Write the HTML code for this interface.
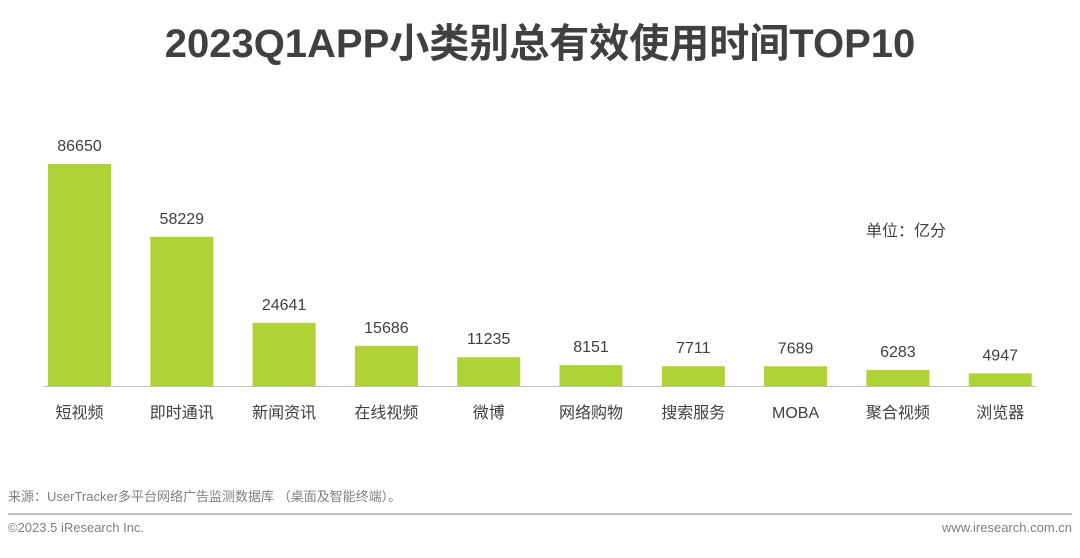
<!DOCTYPE html>
<html><head><meta charset="utf-8"><style>
body{margin:0;background:#fff;width:1080px;height:558px;overflow:hidden;font-family:"Liberation Sans","Noto Sans CJK SC",sans-serif;}
#title{position:absolute;left:0;width:1080px;top:11px;text-align:center;font-size:40px;font-weight:bold;color:#404040;}
.t{position:absolute;color:#595959;}
</style></head><body>
<div id="title">2023Q1APP小类别总有效使用时间TOP10</div>
<svg id="chart" width="1080" height="558" style="position:absolute;left:0;top:0"></svg>
<div class="t" style="left:866px;top:217px;font-size:16px;color:#404040">单位：亿分</div>
<div class="t" style="left:8px;top:486px;font-size:13px;color:#7f7f7f">来源：UserTracker多平台网络广告监测数据库 （桌面及智能终端）。</div>
<div style="position:absolute;left:8px;top:513px;width:1064px;height:2px;background:#bfbfbf"></div>
<div class="t" style="left:8px;top:520px;font-size:13px;color:#7f7f7f">©2023.5 iResearch Inc.</div>
<div class="t" style="right:8px;top:520px;font-size:13px;color:#7f7f7f">www.iresearch.com.cn</div>
<script>
const categories=["短视频","即时通讯","新闻资讯","在线视频","微博","网络购物","搜索服务","MOBA","聚合视频","浏览器"];
const values=[86650,58229,24641,15686,11235,8151,7711,7689,6283,4947];
const NS="http://www.w3.org/2000/svg";
const svg=document.getElementById("chart");
const base=386, scale=222/86650, x0=48, step=102.3, bw=63;
function y(v){return base-v*scale;}
function x(i){return x0+i*step;}
function mk(t,a){const e=document.createElementNS(NS,t);for(const k in a)e.setAttribute(k,a[k]);svg.appendChild(e);return e;}
values.forEach((v,i)=>{
 const r=mk("rect",{x:x(i),y:y(v),width:bw,height:base-y(v),fill:"#afd236"});
 
 
 const l=mk("text",{x:x(i)+bw/2,y:y(v)-13,"text-anchor":"middle","font-size":16,fill:"#404040"});
 l.textContent=v;
 
 
 const c=mk("text",{x:x(i)+bw/2,y:418,"text-anchor":"middle","font-size":16,fill:"#404040"});
 c.textContent=categories[i];
 
 
});
const ax=mk("line",{x1:44,x2:1036,y1:base+0.5,y2:base+0.5,stroke:"#bfbfbf","stroke-width":1});


</script>
</body></html>
